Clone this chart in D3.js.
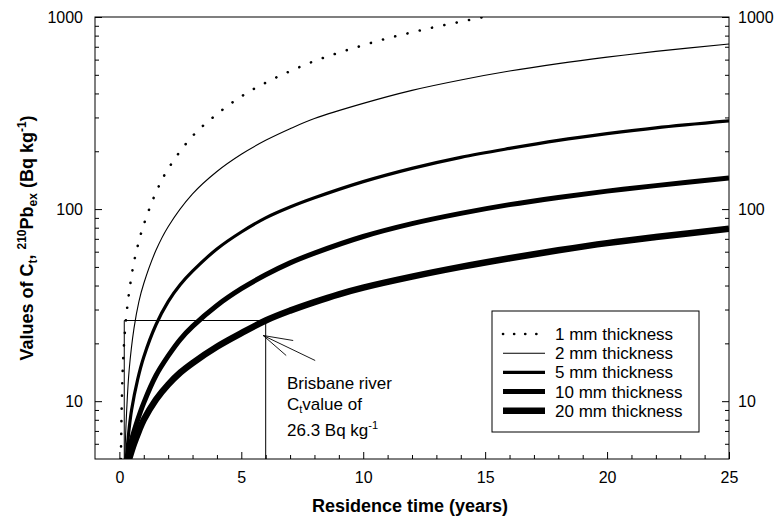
<!DOCTYPE html>
<html>
<head>
<meta charset="utf-8">
<script src="https://cdn.jsdelivr.net/npm/d3@7"></script>
<style>
  html, body { margin: 0; padding: 0; background: #fff; }
  svg { display: block; font-family: "Liberation Sans", Arial, sans-serif; }
</style>
</head>
<body>
<svg id="chart" width="778" height="521"></svg>
<script>
// ---------------- data ----------------
const t1mm  = [0.06, 0.1, 0.15, 0.25, 0.4, 0.6, 0.8, 1, 1.5, 2, 3, 4, 5, 6, 7, 8, 9, 10, 11, 12, 13, 14, 15];
const c1mm  = [5, 10, 16, 25, 37, 53, 68, 83, 122, 162, 240, 312, 386, 455, 522, 590, 652, 713, 775, 832, 890, 945, 1005];

const t2mm  = [0.22, 0.3, 0.4, 0.6, 0.8, 1, 1.5, 2, 3, 4, 5, 6, 7, 8, 10, 12, 14, 16, 18, 20, 22, 25];
const c2mm  = [5, 9, 14.5, 24, 33, 41, 61, 81, 120, 157, 193, 228, 262, 296, 355, 415, 470, 523, 572, 618, 662, 723];

const t5mm  = [0.28, 0.4, 0.5, 0.75, 1, 1.5, 2, 2.5, 3, 4, 5, 6, 7, 8, 10, 12, 14, 16, 18, 20, 22, 25];
const c5mm  = [5, 7.2, 9, 13, 17, 25, 33, 40.5, 47.5, 62, 76, 90, 102.5, 114.5, 139, 163, 186, 207, 228, 247, 265, 288];

const t10mm = [0.33, 0.5, 0.75, 1, 1.5, 2, 2.5, 3, 4, 5, 6, 7, 8, 10, 12, 14, 16, 18, 20, 22, 25];
const c10mm = [5, 6.3, 8, 9.8, 13.6, 17.2, 21, 24.5, 31.5, 38.5, 45.5, 52.5, 59, 72, 84, 95, 105.5, 115, 124, 132.5, 145];

const t20mm = [0.4, 0.6, 0.8, 1, 1.5, 2, 2.5, 3, 4, 5, 6, 7, 8, 9, 10, 12, 14, 16, 18, 20, 22, 25];
const c20mm = [5, 6, 7, 8, 10.2, 12.2, 14.1, 15.8, 19.2, 22.6, 26.3, 29.6, 32.8, 36, 39, 44.5, 50, 55.5, 61, 66.5, 71.5, 79];

const seriesNames  = ["1 mm thickness", "2 mm thickness", "5 mm thickness", "10 mm thickness", "20 mm thickness"];
const xTickMajor   = [0, 5, 10, 15, 20, 25];
const xTickMinor   = [1, 2, 3, 4, 6, 7, 8, 9, 11, 12, 13, 14, 16, 17, 18, 19, 21, 22, 23, 24];
const yTickMajor   = [10, 100, 1000];
const yTickMinor   = [6, 7, 8, 9, 20, 30, 40, 50, 60, 70, 80, 90, 200, 300, 400, 500, 600, 700, 800, 900];

// Brisbane river marker
const markerValue  = 26.3;
const markerYears  = [0.2, 6];
const annotationLines = ["Brisbane river", "C", "26.3 Bq kg"];

// ---------------- layout ----------------
const svg = d3.select("#chart");
const x = d3.scaleLinear().domain([-1, 25]).range([95, 729]);
const y = d3.scaleLog().domain([5, 1000]).range([459, 17]);
const [x0, x1] = x.range();
const [y0, y1] = y.range();

svg.append("defs").append("clipPath").attr("id", "plot")
  .append("rect").attr("x", x0).attr("y", y1).attr("width", x1 - x0).attr("height", y0 - y1);

// frame
svg.append("rect").attr("x", x0).attr("y", y1).attr("width", x1 - x0).attr("height", y0 - y1)
  .attr("fill", "none").attr("stroke", "#000").attr("stroke-width", 1);

// axes
function styleAxis(g) {
  g.select(".domain").remove();
  g.selectAll("line").attr("stroke", "#000");
  g.selectAll("text").attr("font-size", 16).attr("fill", "#000").attr("font-family", "Liberation Sans, Arial, sans-serif");
}
svg.append("g").attr("transform", `translate(0,${y0})`)
  .call(d3.axisBottom(x).tickValues(xTickMajor).tickSize(-7).tickPadding(13).tickFormat(d3.format("d")))
  .call(styleAxis);
svg.append("g").attr("transform", `translate(0,${y0})`)
  .call(d3.axisBottom(x).tickValues(xTickMinor).tickSize(-4).tickFormat(""))
  .call(styleAxis);
svg.append("g").attr("transform", `translate(${x0},0)`)
  .call(d3.axisLeft(y).tickValues(yTickMajor).tickSize(-7).tickPadding(12).tickFormat(d3.format("d")))
  .call(styleAxis);
svg.append("g").attr("transform", `translate(${x0},0)`)
  .call(d3.axisLeft(y).tickValues(yTickMinor).tickSize(-4).tickFormat(""))
  .call(styleAxis);
svg.append("g").attr("transform", `translate(${x1},0)`)
  .call(d3.axisRight(y).tickValues(yTickMajor).tickSize(-7).tickPadding(9).tickFormat(d3.format("d")))
  .call(styleAxis);
svg.append("g").attr("transform", `translate(${x1},0)`)
  .call(d3.axisRight(y).tickValues(yTickMinor).tickSize(-4).tickFormat(""))
  .call(styleAxis);

// axis titles
svg.append("text").attr("x", 410).attr("y", 512).attr("text-anchor", "middle")
  .attr("font-size", 18).attr("font-weight", "bold").text("Residence time (years)");

const yt = svg.append("text").attr("transform", `translate(33,${(y0 + y1) / 2}) rotate(-90)`)
  .attr("text-anchor", "middle").attr("font-size", 18).attr("font-weight", "bold");
yt.append("tspan").text("Values of C");
yt.append("tspan").attr("font-size", 12).attr("dy", 4).text("t");
yt.append("tspan").attr("dy", -4).text(", ");
yt.append("tspan").attr("font-size", 12).attr("dy", -7).text("210");
yt.append("tspan").attr("dy", 7).text("Pb");
yt.append("tspan").attr("font-size", 12).attr("dy", 4).text("ex");
yt.append("tspan").attr("dy", -4).text(" (Bq kg");
yt.append("tspan").attr("font-size", 12).attr("dy", -7).text("-1");
yt.append("tspan").attr("dy", 7).text(")");

// Brisbane marker box
const mk = svg.append("g").attr("stroke", "#000").attr("stroke-width", 1).attr("fill", "none");
mk.append("path").attr("d", d3.line()([
  [x(markerYears[0]), y0], [x(markerYears[0]), y(markerValue)],
  [x(markerYears[1]), y(markerValue)], [x(markerYears[1]), y0]
]));

// curves
const series = [
  { t: t1mm,  c: c1mm,  w: 2.6, dash: "0.1,12.5" },
  { t: t2mm,  c: c2mm,  w: 1.1 },
  { t: t5mm,  c: c5mm,  w: 3.2 },
  { t: t10mm, c: c10mm, w: 5 },
  { t: t20mm, c: c20mm, w: 6.5 }
];
const line = d3.line().x(d => x(d[0])).y(d => y(d[1])).curve(d3.curveCatmullRom.alpha(0.5));
const curves = svg.append("g").attr("clip-path", "url(#plot)");
series.forEach(s => {
  curves.append("path")
    .attr("d", line(s.t.map((t, i) => [t, s.c[i]])))
    .attr("fill", "none").attr("stroke", "#000")
    .attr("stroke-width", s.w)
    .attr("stroke-linecap", s.dash ? "round" : "butt")
    .attr("stroke-dasharray", s.dash || null);
});

// annotation arrow
const tip = [x(markerYears[1]) - 2.5, y(markerValue) + 15];
const arr = svg.append("g").attr("stroke", "#000").attr("stroke-width", 0.9);
[[tip[0] + 30, tip[1] + 5], [tip[0] + 23, tip[1] + 20], [tip[0] + 52, tip[1] + 25]].forEach(p => {
  arr.append("line").attr("x1", tip[0]).attr("y1", tip[1]).attr("x2", p[0]).attr("y2", p[1]);
});

const ax = 287;
svg.append("text").attr("x", ax).attr("y", 389).attr("font-size", 17).text(annotationLines[0]);
const a2 = svg.append("text").attr("x", ax).attr("y", 410).attr("font-size", 17);
a2.append("tspan").text(annotationLines[1]);
a2.append("tspan").attr("font-size", 11).attr("dy", 3).text("t");
a2.append("tspan").attr("dy", -3).text("value of");
const a3 = svg.append("text").attr("x", ax).attr("y", 436).attr("font-size", 17);
a3.append("tspan").text(annotationLines[2]);
a3.append("tspan").attr("font-size", 11).attr("dy", -7).text("-1");

// legend
const lg = svg.append("g");
lg.append("rect").attr("x", 492).attr("y", 311).attr("width", 207).attr("height", 121)
  .attr("fill", "#fff").attr("stroke", "#000").attr("stroke-width", 1);
seriesNames.forEach((name, i) => {
  const cy = 334 + i * 19.2;
  const s = series[i];
  lg.append("line").attr("x1", 503).attr("x2", 545).attr("y1", cy).attr("y2", cy)
    .attr("stroke", "#000").attr("stroke-width", s.w)
    .attr("stroke-linecap", s.dash ? "round" : "butt")
    .attr("stroke-dasharray", s.dash ? "0.1,11" : null);
  lg.append("text").attr("x", 555).attr("y", cy + 6).attr("font-size", 17).text(name);
});
</script>
</body>
</html>
